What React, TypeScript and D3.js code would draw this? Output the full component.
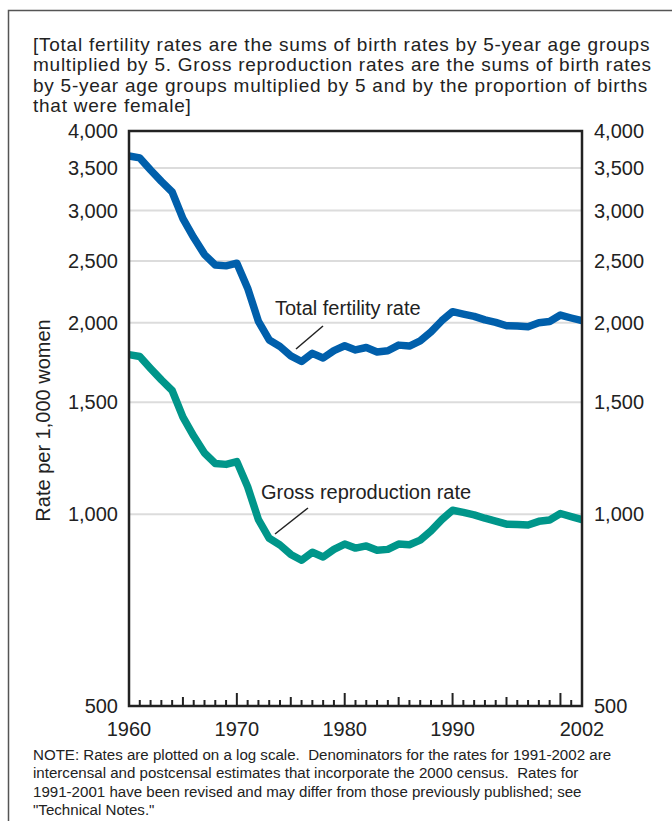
import React from 'react';
import * as d3 from 'd3';

// years 1960..2002
const years = d3.range(1960, 2003);

// total fertility rate per 1,000 women
const totalFertility = [
  3654, 3629, 3474, 3333, 3208, 2913, 2721, 2558, 2464, 2456,
  2480, 2266, 2010, 1879, 1835, 1774, 1738, 1790, 1760, 1808,
  1840, 1812, 1828, 1799, 1807, 1844, 1838, 1872, 1934, 2014,
  2081, 2063, 2046, 2020, 2002, 1978, 1976, 1971, 1999, 2008,
  2056, 2034, 2014,
];

// gross reproduction rate per 1,000 women
const grossReproduction = [
  1782, 1770, 1695, 1626, 1565, 1421, 1327, 1248, 1202, 1198,
  1210, 1105, 981, 917, 895, 865, 847, 872, 857, 881,
  898, 885, 892, 878, 881, 898, 896, 911, 942, 981,
  1015, 1007, 998, 986, 976, 965, 964, 962, 975, 980,
  1003, 992, 981,
];

const yTicks = [500, 1000, 1500, 2000, 2500, 3000, 3500, 4000];
const gridValues = [1000, 1500, 2000, 2500, 3000, 3500];
const xLabels = [1960, 1970, 1980, 1990, 2002];

const headnote = [
  '[Total fertility rates are the sums of birth rates by 5-year age groups',
  'multiplied by 5. Gross reproduction rates are the sums of birth rates',
  'by 5-year age groups multiplied by 5 and by the proportion of births',
  'that were female]',
];

const footnote = [
  'NOTE: Rates are plotted on a log scale.  Denominators for the rates for 1991-2002 are',
  'intercensal and postcensal estimates that incorporate the 2000 census.  Rates for',
  '1991-2001 have been revised and may differ from those previously published; see',
  '"Technical Notes."',
];

const W = 672;
const H = 821;
const left = 129;
const right = 582;
const top = 131;
const bottom = 706;

const font = '"Liberation Sans", Arial, Helvetica, sans-serif';

export default function App() {
  const x = d3.scaleLinear().domain([1960, 2002]).range([left, right]);
  const y = d3.scaleLog().domain([500, 4000]).range([bottom, top]);
  const fmt = d3.format(',');

  const line = d3.line<number>()
    .x((d, i) => x(years[i]))
    .y(d => y(d))
    .curve(d3.curveLinear);

  return (
    <svg width={W} height={H} style={{ position: 'absolute', left: 0, top: 0 }}
      fontFamily={font}>
      <rect x={0} y={0} width={W} height={H} fill="#fff" />
      {/* outer frame */}
      <rect x={8.5} y={10.5} width={800} height={900} fill="none" stroke="#555" strokeWidth={1.5} />

      {headnote.map((t, i) => (
        <text key={i} x={33} y={51 + i * 20.3} fontSize={19} fill="#222" letterSpacing={0.75}>{t}</text>
      ))}

      {/* gridlines */}
      {gridValues.map(v => (
        <line key={v} x1={left} x2={right} y1={y(v)} y2={y(v)} stroke="#dcdcdc" strokeWidth={2} />
      ))}

      {/* x ticks */}
      {years.map(yr => {
        const len = yr % 10 === 0 ? 13 : yr % 5 === 0 ? 9 : 6;
        return <line key={yr} x1={x(yr)} x2={x(yr)} y1={bottom} y2={bottom - len} stroke="#222" strokeWidth={2} />;
      })}

      {/* series */}
      <path d={line(totalFertility) || ''} fill="none" stroke="#005fab" strokeWidth={7.5} strokeLinejoin="round" />
      <path d={line(grossReproduction) || ''} fill="none" stroke="#00968a" strokeWidth={7.5} strokeLinejoin="round" />

      {/* frame of plot */}
      <rect x={left} y={top} width={right - left} height={bottom - top} fill="none" stroke="#222" strokeWidth={2.5} />

      {/* y labels */}
      {yTicks.map(v => (
        <g key={v}>
          <text x={118} y={y(v) + 7} fontSize={20} textAnchor="end" fill="#222">{fmt(v)}</text>
          <text x={594} y={y(v) + 7} fontSize={20} textAnchor="start" fill="#222">{fmt(v)}</text>
        </g>
      ))}

      {/* x labels */}
      {xLabels.map(v => (
        <text key={v} x={x(v)} y={736} fontSize={20} textAnchor="middle" fill="#222">{v}</text>
      ))}

      {/* y axis title */}
      <text transform={`translate(50,${(top + bottom) / 2 + 2}) rotate(-90)`} fontSize={20} textAnchor="middle" fill="#222">
        Rate per 1,000 women
      </text>

      {/* annotations */}
      <text x={275} y={315} fontSize={20} fill="#222">Total fertility rate</text>
      <line x1={296} x2={323} y1={349} y2={326} stroke="#222" strokeWidth={1.5} />
      <text x={261} y={499} fontSize={20} fill="#222">Gross reproduction rate</text>
      <line x1={275} x2={308} y1={534} y2={508} stroke="#222" strokeWidth={1.5} />

      {footnote.map((t, i) => (
        <text key={i} x={33} y={760 + i * 18.3} fontSize={15.1} fill="#222" style={{ whiteSpace: 'pre' }}>{t}</text>
      ))}
    </svg>
  );
}
